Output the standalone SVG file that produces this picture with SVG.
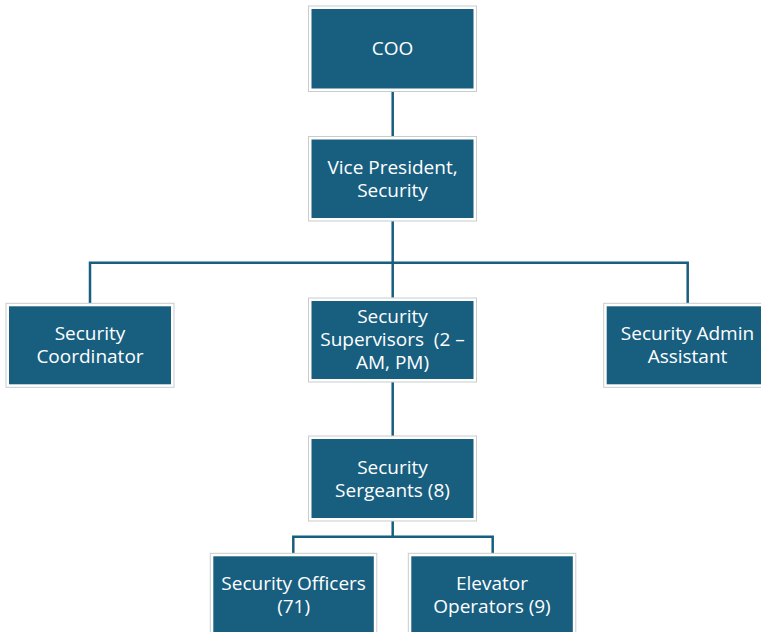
<svg xmlns="http://www.w3.org/2000/svg" width="761" height="632" viewBox="0 0 761 632">
<style>
.frame{fill:#ffffff;stroke:#c9cccd;stroke-width:1}
.box{fill:#185e7f}
.t{fill:#ffffff;font-family:"Open Sans","DejaVu Sans",sans-serif;font-size:19px;text-anchor:middle}
.c{fill:none;stroke:#185e7f;stroke-width:2.5}
</style>
<rect width="761" height="632" fill="#ffffff"/>
<g id="connectors">
<path class="c" d="M392.7 90.7V136.7"/>
<path class="c" d="M392.7 221V297.7"/>
<path class="c" d="M90 303.3V262.7H687.7V303.3"/>
<path class="c" d="M392.7 382V436"/>
<path class="c" d="M392.7 521V536.7"/>
<path class="c" d="M293.3 553.3V536.7H492.7V553.3"/>
</g>
<g id="coo">
<rect class="frame" x="308.5" y="6" width="168" height="85.5"/>
<rect class="box" x="311.5" y="9" width="162" height="79.5"/>
<text class="t" x="392.5" y="54.5">COO</text>
</g>
<g id="vp">
<rect class="frame" x="308.5" y="136.5" width="168" height="84.5"/>
<rect class="box" x="311.5" y="139.5" width="162" height="78.5"/>
<text class="t" x="392.5" y="174">Vice President,</text>
<text class="t" x="392.5" y="197">Security</text>
</g>
<g id="coordinator">
<rect class="frame" x="6" y="303.3" width="168" height="84"/>
<rect class="box" x="9" y="306.3" width="162" height="78"/>
<text class="t" x="90" y="340.3">Security</text>
<text class="t" x="90" y="363.3">Coordinator</text>
</g>
<g id="supervisors">
<rect class="frame" x="308.5" y="298" width="168" height="84"/>
<rect class="box" x="311.5" y="301" width="162" height="78"/>
<text class="t" x="392.5" y="323">Security</text>
<text class="t" x="392.5" y="346" xml:space="preserve">Supervisors  (2 –</text>
<text class="t" x="392.5" y="369">AM, PM)</text>
</g>
<g id="admin">
<rect class="frame" x="603.7" y="303.3" width="168" height="84"/>
<rect class="box" x="606.7" y="306.3" width="162" height="78"/>
<text class="t" x="687.5" y="340.3">Security Admin</text>
<text class="t" x="687.5" y="363.3">Assistant</text>
</g>
<g id="sergeants">
<rect class="frame" x="308.5" y="436" width="168" height="85"/>
<rect class="box" x="311.5" y="439" width="162" height="79"/>
<text class="t" x="392.5" y="473.5">Security</text>
<text class="t" x="392.5" y="496.5">Sergeants (8)</text>
</g>
<g id="officers">
<rect class="frame" x="210.3" y="553.3" width="166.5" height="86"/>
<rect class="box" x="213.3" y="556.3" width="160.5" height="80"/>
<text class="t" x="293.6" y="589.5">Security Officers</text>
<text class="t" x="293.6" y="612.5">(71)</text>
</g>
<g id="elevator">
<rect class="frame" x="408.3" y="553.3" width="167.5" height="86"/>
<rect class="box" x="411.3" y="556.3" width="161.5" height="80"/>
<text class="t" x="492" y="589.5">Elevator</text>
<text class="t" x="492" y="612.5">Operators (9)</text>
</g>
</svg>
